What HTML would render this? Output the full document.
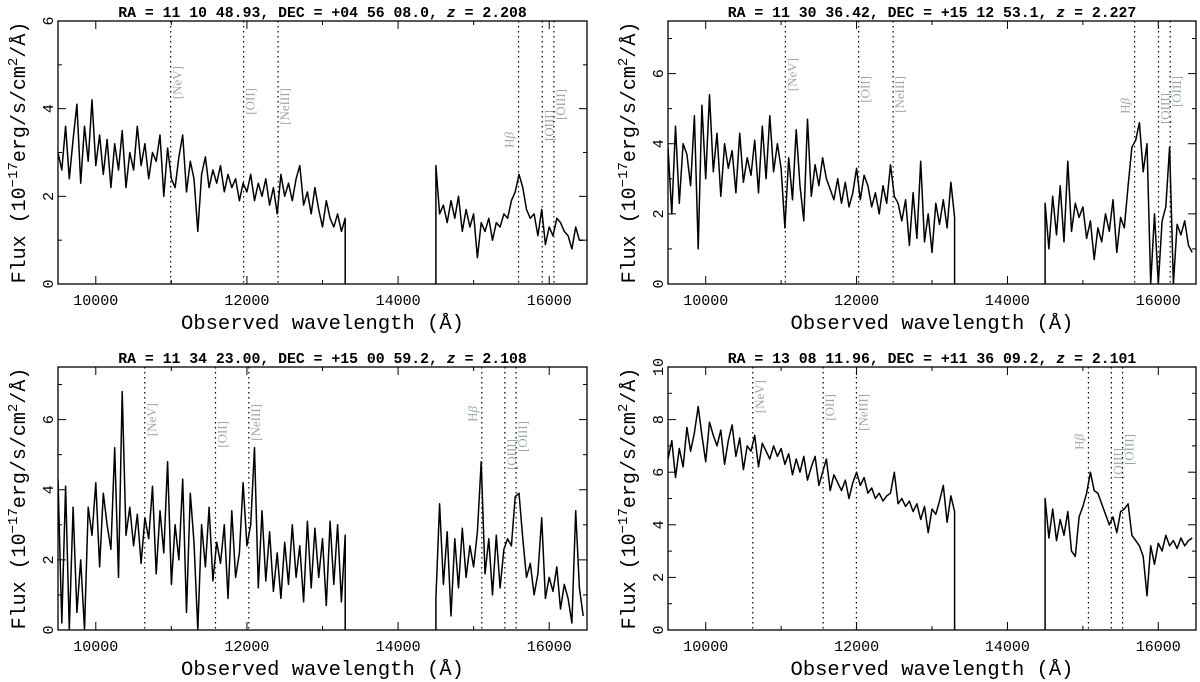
<!DOCTYPE html>
<html><head><meta charset="utf-8">
<style>
html,body{margin:0;padding:0;background:#fff;}
svg{display:block;}
text{font-family:"Liberation Mono",monospace;fill:#000;}
.lab{font-family:"Liberation Serif",serif;fill:#9aa8ad;font-size:13px;}
</style></head>
<body>
<svg id="fig" width="1200" height="682" viewBox="0 0 1200 682" xmlns="http://www.w3.org/2000/svg"></svg>
<script>
// ---- data ----
const titles = ["RA = 11 10 48.93, DEC = +04 56 08.0, ","RA = 11 30 36.42, DEC = +15 12 53.1, ","RA = 11 34 23.00, DEC = +15 00 59.2, ","RA = 13 08 11.96, DEC = +11 36 09.2, "];
const redshifts = ["2.208","2.227","2.108","2.101"];
const yMaxes = [6, 7.5, 7.5, 10];
const xTickLabels = [10000, 12000, 14000, 16000];
const seg1Start = 9500, seg1Step = 50;
const seg2Start = 14500, seg2Step = 50;
const p1Seg1 = [3.0,2.6,3.6,2.4,3.3,4.1,2.3,3.6,2.8,4.2,2.7,3.4,2.5,3.3,2.2,3.2,2.6,3.5,2.2,3.0,2.6,3.6,2.7,3.2,2.4,3.0,2.8,3.4,2.0,3.1,2.4,2.2,2.9,3.4,2.1,2.8,2.4,1.2,2.5,2.9,2.2,2.6,2.3,2.7,2.1,2.5,2.2,2.4,1.9,2.3,2.1,2.5,1.9,2.3,2.0,2.4,1.8,2.2,1.6,2.5,2.0,2.3,1.9,2.4,2.7,1.8,2.1,1.6,2.2,1.7,1.3,1.9,1.5,1.3,1.6,1.2,1.5];
const p1Seg2 = [2.7,1.6,1.8,1.4,1.9,1.5,2.0,1.2,1.7,1.3,1.6,0.6,1.4,1.2,1.5,1.0,1.4,1.3,1.6,1.5,1.9,2.1,2.5,2.2,1.7,1.5,1.6,1.1,1.7,0.9,1.3,1.1,1.5,1.4,1.2,1.1,0.8,1.3,1.0,1.0];
const p2Seg1 = [3.9,2.0,4.5,2.3,4.0,3.7,2.8,4.8,1.0,5.1,3.0,5.4,3.2,4.3,2.5,4.0,3.3,3.8,2.6,4.3,2.9,3.6,3.1,4.1,2.6,4.5,3.0,4.8,3.2,4.0,3.3,1.6,3.6,2.4,4.4,2.8,1.8,4.7,2.5,3.4,2.8,3.6,3.0,2.7,2.4,3.0,2.3,2.9,2.2,2.6,3.3,2.4,3.1,2.8,2.2,2.6,2.0,2.8,2.3,3.4,2.5,2.3,1.8,2.4,1.1,2.6,1.3,3.5,1.2,2.0,0.9,2.3,1.7,2.4,1.6,2.9,1.9];
const p2Seg2 = [2.3,1.0,2.5,1.4,2.8,1.2,3.5,1.5,2.3,1.9,2.2,1.3,1.8,0.7,1.6,1.2,2.0,1.5,2.4,0.9,1.9,1.6,2.8,3.9,4.1,4.6,3.2,4.0,0.0,2.0,0.0,1.8,2.2,3.9,0.0,1.7,1.4,1.8,1.1,0.9];
const p3Seg1 = [4.3,0.2,4.1,0.0,3.5,0.5,2.0,0.0,3.5,2.7,4.2,1.8,3.9,3.0,2.3,5.2,1.5,6.8,2.7,3.5,2.4,3.3,1.9,3.2,2.6,4.1,1.6,3.4,2.2,4.8,1.3,3.0,2.0,4.3,0.5,3.9,2.5,0.0,3.0,1.8,3.5,1.4,2.5,1.9,3.0,0.9,3.4,1.5,2.2,4.2,2.4,3.0,5.2,1.2,3.4,1.4,2.8,1.1,2.2,0.9,2.5,1.3,3.0,1.5,2.4,0.8,3.1,1.2,2.9,1.5,2.6,0.7,3.1,1.3,3.0,0.8,2.7];
const p3Seg2 = [0.9,3.6,1.3,2.8,0.4,2.6,1.2,2.9,1.5,2.4,1.8,2.8,4.8,1.6,2.6,1.0,2.7,1.2,2.3,2.6,2.4,3.8,3.9,2.6,1.5,1.9,1.0,1.6,3.2,0.9,1.5,1.1,1.8,0.6,1.3,0.9,0.2,3.4,1.2,0.4];
const p4Seg1 = [6.5,7.2,5.8,6.9,6.2,7.7,6.8,7.5,8.5,7.4,6.4,7.9,7.4,7.0,7.6,6.3,7.2,7.8,6.6,7.3,6.1,7.0,6.8,7.4,6.2,7.1,6.8,6.5,7.0,6.6,6.9,6.3,6.7,5.9,6.5,6.0,6.6,5.7,6.2,6.6,5.5,6.0,6.5,5.3,5.9,5.6,5.3,5.7,5.0,5.6,6.0,5.5,5.8,5.2,5.4,5.0,5.2,4.9,5.1,5.2,6.0,4.8,5.0,4.7,4.9,4.5,4.8,4.2,4.7,3.7,4.6,4.4,4.9,5.5,4.1,5.1,4.5];
const p4Seg2 = [5.0,3.5,4.6,3.4,4.2,3.6,4.5,3.0,2.8,4.3,4.7,5.2,6.0,5.3,5.2,4.8,4.4,4.0,4.3,3.7,4.5,4.6,4.8,3.6,3.4,3.2,2.8,1.3,3.2,2.5,3.3,3.0,3.6,3.2,3.4,3.1,3.5,3.2,3.4,3.5];
const lineNames = ["[NeV]","[OII]","[NeIII]","Hβ","[OIII]","[OIII]"];
const p1Lines = [10991,11956,12412,15594,15908,16062];
const p2Lines = [11056,12027,12485,15686,16003,16158];
const p3Lines = [10648,11584,12025,15108,15413,15562];
const p4Lines = [10624,11557,11998,15074,15378,15527];
// label tops (px below frame top)
const labelTops = [[45,67,67,111,89,68],[37,55,55,77,72,55],[36,54,37,39,72,54],[13,27,27,67,81,67]];

const seg1s=[p1Seg1,p2Seg1,p3Seg1,p4Seg1], seg2s=[p1Seg2,p2Seg2,p3Seg2,p4Seg2];
const linesAll=[p1Lines,p2Lines,p3Lines,p4Lines];
const frames=[{L:58,R:587,T:21,B:284},{L:668,R:1196,T:21,B:284},{L:58,R:587,T:367,B:630},{L:668,R:1196,T:367,B:630}];
const NS="http://www.w3.org/2000/svg";
const svg=document.getElementById('fig');
function mk(tag,attrs,parent){const e=document.createElementNS(NS,tag);for(const k in attrs)e.setAttribute(k,attrs[k]);(parent||svg).appendChild(e);return e;}

frames.forEach((f,p)=>{
  const g=mk('g',{});
  
  
  const ymax=yMaxes[p];
  const xs=w=>f.L+(w-9500)/(16500-9500)*(f.R-f.L);
  const ys=v=>f.B-v/ymax*(f.B-f.T);
  const cp=mk('clipPath',{id:'clip'+p},g);
  mk('rect',{x:f.L,y:f.T,width:f.R-f.L,height:f.B-f.T},cp);
  linesAll[p].forEach((w,i)=>{
    const l=mk('line',{x1:xs(w),x2:xs(w),y1:f.T,y2:f.B,stroke:'#000','stroke-width':1.2,'stroke-dasharray':'1.5,3.5'},g);
    
    
    const isHb=i===3;
    const tx=isHb?xs(w)-5:xs(w)+11, ty=f.T+labelTops[p][i];
    const t=mk('text',{class:'lab',x:tx,y:ty,'text-anchor':'end',transform:`rotate(-90 ${tx} ${ty})`},g);
    
    
    if(isHb){t.textContent='H';const s=mk('tspan',{'font-style':'italic'},t);s.textContent='β';}
    else t.textContent=lineNames[i];
  });
  function path(arr,start,step,first){
    let d='';
    arr.forEach((v,i)=>{const x=xs(start+i*step),y=ys(v);d+=(i?'L':'M')+x.toFixed(1)+','+y.toFixed(1);});
    if(first){const x=xs(start+(arr.length-1)*step);d+='L'+x.toFixed(1)+','+f.B;}
    else{d='M'+xs(start).toFixed(1)+','+f.B+'L'+d.slice(1);}
    return d;
  }
  const s1=mk('path',{d:path(seg1s[p],seg1Start,seg1Step,true),fill:'none',stroke:'#000','stroke-width':1.5,'stroke-linejoin':'round','clip-path':`url(#clip${p})`},g);
  
  
  const s2=mk('path',{d:path(seg2s[p],seg2Start,seg2Step,false),fill:'none',stroke:'#000','stroke-width':1.5,'stroke-linejoin':'round','clip-path':`url(#clip${p})`},g);
  
  
  const fr=mk('rect',{x:f.L,y:f.T,width:f.R-f.L,height:f.B-f.T,fill:'none',stroke:'#000','stroke-width':1.3},g);
  
  
  for(let w=10000;w<=16000;w+=1000){
    const len=(w%2000===0)?8:4, x=xs(w);
    mk('line',{x1:x,x2:x,y1:f.B,y2:f.B-len,stroke:'#000','stroke-width':1},g);
    mk('line',{x1:x,x2:x,y1:f.T,y2:f.T+len,stroke:'#000','stroke-width':1},g);
  }
  xTickLabels.forEach(w=>{
    const t=mk('text',{x:xs(w),y:f.B+21,'text-anchor':'middle','font-size':'15px'},g);
    
    
    t.textContent=w;
  });
  for(let v=1;v<ymax;v+=1){
    const len=(v%2===0)?8:4, y=ys(v);
    mk('line',{x1:f.L,x2:f.L+len,y1:y,y2:y,stroke:'#000','stroke-width':1},g);
    mk('line',{x1:f.R,x2:f.R-len,y1:y,y2:y,stroke:'#000','stroke-width':1},g);
  }
  for(let v=0;v<=ymax;v+=2){
    const y=ys(v), x=f.L-5;
    const t=mk('text',{x:x,y:y,'text-anchor':'middle','font-size':'15px',transform:`rotate(-90 ${x} ${y})`},g);
    
    
    t.textContent=v;
  }
  const xt=mk('text',{x:(f.L+f.R)/2,y:f.B+45,'text-anchor':'middle','font-size':'20.5px'},g);
  
  
  xt.textContent='Observed wavelength (Å)';
  const yx=f.L-33, yy=(f.T+f.B)/2;
  const yt=mk('text',{x:yx,y:yy,'text-anchor':'middle','font-size':'20px',transform:`rotate(-90 ${yx} ${yy})`},g);
  
  
  const parts=[['Flux (10',0],['−17',1],['erg/s/cm',0],['2',1],['/Å)',0]];
  parts.forEach(([s,sup])=>{
    const ts=mk('tspan',sup?{'font-size':'14px',dy:-8}:{},yt);
    if(!sup && yt.childNodes.length>1) ts.setAttribute('dy',8);
    ts.textContent=s;
  });
  const tt=mk('text',{x:(f.L+f.R)/2,y:f.T-4,'text-anchor':'middle','font-size':'14.8px','font-weight':'bold'},g);
  
  
  tt.textContent=titles[p];
  const zi=mk('tspan',{'font-style':'italic'},tt);zi.textContent='z';
  const zr=mk('tspan',{},tt);zr.textContent=' = '+redshifts[p];
});
</script>
</body></html>
